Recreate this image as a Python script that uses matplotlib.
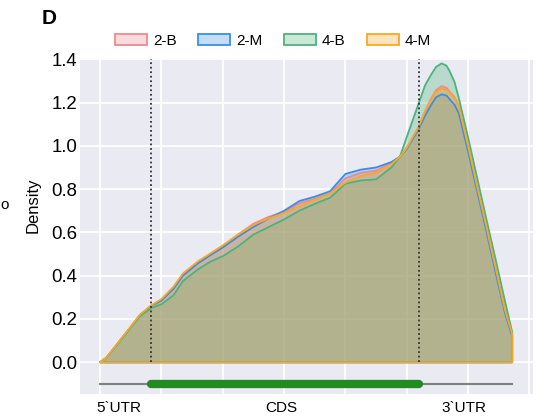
import matplotlib.pyplot as plt
from matplotlib.colors import to_rgba
from matplotlib.patches import Patch

plt.rcParams['font.family'] = ['Liberation Sans', 'DejaVu Sans']

# metagene position (grid step = 1) and density per group
pos = [0, 0.1, 0.25, 0.5, 0.65, 0.83, 1.0, 1.2, 1.35, 1.6, 1.8, 2.0, 2.25, 2.5, 2.75,
       3.0, 3.25, 3.5, 3.75, 4.0, 4.25, 4.5, 4.75, 4.89, 5.0, 5.2, 5.3, 5.4, 5.48, 5.57,
       5.65, 5.7, 5.78, 5.85, 6.0, 6.15, 6.3, 6.45, 6.6, 6.72]
dens_2b = [0.0, 0.02, 0.073, 0.163, 0.218, 0.26, 0.287, 0.343, 0.402, 0.46, 0.497, 0.533,
           0.59, 0.64, 0.672, 0.695, 0.735, 0.755, 0.78, 0.85, 0.875, 0.885, 0.92, 0.95,
           0.99, 1.09, 1.16, 1.22, 1.258, 1.276, 1.268, 1.25, 1.225, 1.185, 1.0, 0.81,
           0.625, 0.435, 0.245, 0.13]
dens_2m = [0.0, 0.02, 0.073, 0.163, 0.218, 0.26, 0.285, 0.34, 0.4, 0.458, 0.495, 0.53,
           0.58, 0.625, 0.665, 0.7, 0.745, 0.765, 0.79, 0.87, 0.89, 0.9, 0.925, 0.95,
           0.985, 1.08, 1.14, 1.19, 1.225, 1.238, 1.232, 1.215, 1.19, 1.15, 0.975, 0.79,
           0.605, 0.415, 0.23, 0.12]
dens_4b = [0.0, 0.02, 0.072, 0.16, 0.213, 0.25, 0.268, 0.31, 0.375, 0.43, 0.465, 0.49,
           0.535, 0.59, 0.625, 0.66, 0.7, 0.732, 0.76, 0.825, 0.84, 0.845, 0.9, 0.95,
           1.04, 1.2, 1.28, 1.33, 1.365, 1.381, 1.37, 1.345, 1.295, 1.22, 1.04, 0.85,
           0.66, 0.475, 0.285, 0.14]
dens_4m = [0.0, 0.02, 0.075, 0.165, 0.22, 0.262, 0.292, 0.35, 0.41, 0.467, 0.503, 0.54,
           0.59, 0.635, 0.665, 0.69, 0.72, 0.75, 0.78, 0.83, 0.86, 0.875, 0.915, 0.95,
           0.99, 1.09, 1.16, 1.215, 1.25, 1.266, 1.258, 1.245, 1.22, 1.18, 1.0, 0.81,
           0.625, 0.435, 0.245, 0.13]

groups = ['2-B', '2-M', '4-B', '4-M']
colors = ['#EE8A90', '#3A8EE6', '#4DB37A', '#F9A825']
region_labels = ['5`UTR', 'CDS', '3`UTR']
label_pos = [0.31, 2.95, 5.94]
cds_start, cds_end = 0.827, 5.193

fig = plt.figure(figsize=(5.47, 4.19), dpi=100)
ax = fig.add_axes([0.1463, 0.0589, 0.8282, 0.8038])
ax.set_facecolor('#EAEAF2')
for s in ax.spines.values():
    s.set_visible(False)

for d, c in zip([dens_2b, dens_2m, dens_4b, dens_4m], colors):
    ax.fill_between(pos, d, 0, facecolor=to_rgba(c, 0.3), edgecolor='none', zorder=2)
for d, c in zip([dens_2b, dens_2m, dens_4b, dens_4m], colors):
    ax.fill_between(pos, d, 0, facecolor='none', edgecolor=c, lw=1.3, zorder=3)

ax.vlines([cds_start, cds_end], 0, 1.4, colors='#333333', linestyles=(0, (1, 1.5)), lw=1.3, zorder=4)

# gene model
ax.plot([pos[0], pos[-1]], [-0.1, -0.1], color='#808080', lw=1.5, zorder=3)
ax.plot([cds_start, cds_end], [-0.1, -0.1], color='#228B22', lw=6, solid_capstyle='round', zorder=4)

ax.set_xlim(-0.326, 7.06)
ax.set_ylim(-0.148, 1.408)
ax.set_xticks(label_pos)
ax.set_xticklabels(region_labels, fontsize=11)
ax.set_xticks(range(8), minor=True)
ax.set_yticks([0, 0.2, 0.4, 0.6, 0.8, 1.0, 1.2, 1.4])
ax.set_yticklabels(['0.0', '0.2', '0.4', '0.6', '0.8', '1.0', '1.2', '1.4'], fontsize=13.4)
ax.tick_params(axis='both', which='both', length=0)
ax.tick_params(axis='x', pad=5)
ax.tick_params(axis='y', pad=2)
ax.grid(True, axis='y', which='major', color='white', lw=1.3, zorder=0)
ax.grid(True, axis='x', which='minor', color='white', lw=1.3, zorder=0)
ax.set_axisbelow(True)

fig.text(33 / 547, 1 - 205 / 419, 'Density', rotation=90, fontsize=12, ha='center', va='center')
fig.text(42 / 547, 1 - 18 / 419, 'D', fontsize=15, fontweight='bold', ha='left', va='center')
fig.text(0.001, 1 - 205 / 419, 'o', fontsize=11, ha='left', va='center')

handles = [Patch(facecolor=to_rgba(c, 0.3), edgecolor=c, lw=1.3) for c in colors]
fig.legend(handles, groups, loc='center', bbox_to_anchor=(273 / 547, 1 - 41 / 419), ncol=4,
           frameon=False, fontsize=11, handlelength=2.1, handleheight=0.75,
           handletextpad=0.4, columnspacing=1.4)

fig.savefig('out.png', dpi=100)
